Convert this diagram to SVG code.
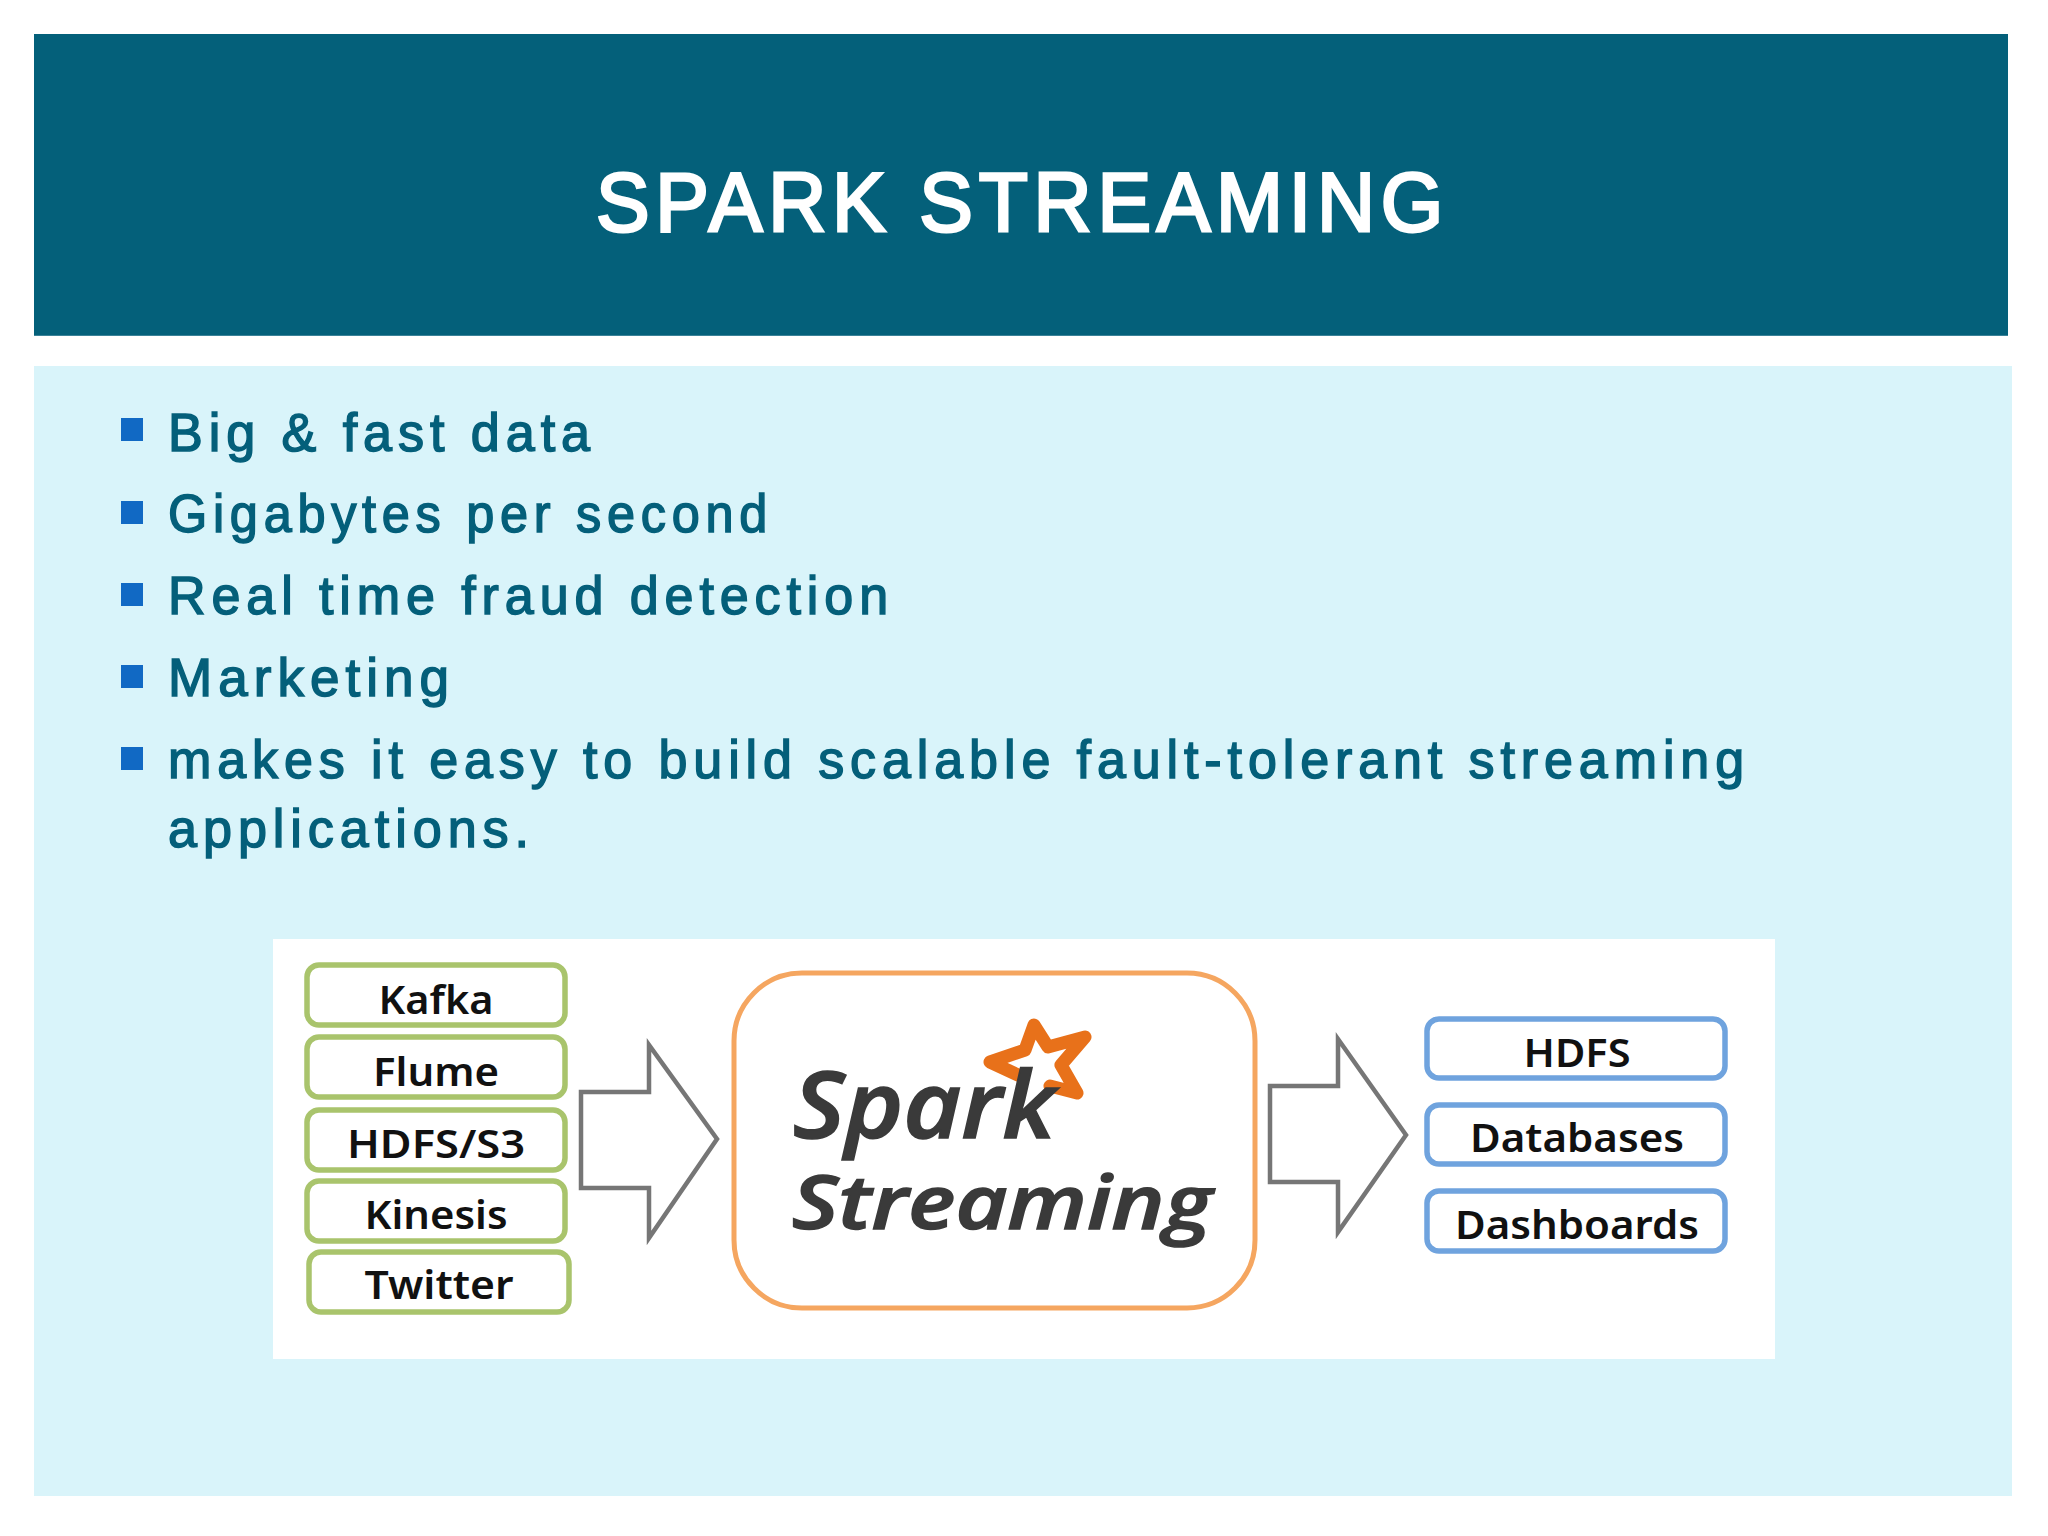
<svg xmlns="http://www.w3.org/2000/svg" width="2048" height="1536" viewBox="0 0 2048 1536">
<style>
.body{font-family:"Liberation Sans",Arial,sans-serif;font-size:53px;fill:#045f7a;stroke:#045f7a;stroke-width:1.5px;letter-spacing:6px}
.bul{fill:#1169c4}
.lab{font-family:"Noto Sans","Open Sans",sans-serif;font-weight:600;font-size:40px;fill:#111;text-anchor:middle}
.g{fill:#fff;stroke:#a9c46c;stroke-width:5.5}
.b{fill:#fff;stroke:#6fa3de;stroke-width:5.5}
.arr{fill:#fff;stroke:#767676;stroke-width:4.5}
.logo{font-family:"Open Sans","Liberation Sans",sans-serif;font-style:italic;font-weight:600;fill:#3a3a3a;stroke:#3a3a3a;stroke-width:1.5px}
</style>
<rect width="2048" height="1536" fill="#fff"/>
<rect id="header" x="34" y="34" width="1974" height="301" fill="#04607a"/>
<rect x="34" y="335" width="1974" height="1" fill="#3a8298"/>
<text id="title" x="596" y="231" textLength="853" lengthAdjust="spacingAndGlyphs" style="font-family:'Liberation Sans',Arial,sans-serif;font-size:84px;fill:#fff;stroke:#fff;stroke-width:3px;letter-spacing:6px">SPARK STREAMING</text>
<rect id="panel" x="34" y="366" width="1978" height="1130" fill="#d9f4fa"/>
<g id="bullets">
<rect class="bul" x="121" y="418" width="22" height="23"/>
<rect class="bul" x="121" y="501" width="22" height="23"/>
<rect class="bul" x="121" y="583" width="22" height="23"/>
<rect class="bul" x="121" y="665" width="22" height="23"/>
<rect class="bul" x="121" y="747" width="22" height="23"/>
<text class="body" x="168" y="451" textLength="428" lengthAdjust="spacingAndGlyphs">Big &amp; fast data</text>
<text class="body" x="168" y="532" textLength="605" lengthAdjust="spacingAndGlyphs">Gigabytes per second</text>
<text class="body" x="168" y="614" textLength="726" lengthAdjust="spacingAndGlyphs">Real time fraud detection</text>
<text class="body" x="168" y="696" textLength="287" lengthAdjust="spacingAndGlyphs">Marketing</text>
<text class="body" x="168" y="778" textLength="1582" lengthAdjust="spacingAndGlyphs">makes it easy to build scalable fault-tolerant streaming</text>
<text class="body" x="168" y="847" textLength="367" lengthAdjust="spacingAndGlyphs">applications.</text>
</g>
<rect id="diagram-bg" x="273" y="939" width="1502" height="420" fill="#fff"/>
<g id="connectors">
<path id="arrow-in" class="arr" d="M581 1092H649V1045L717 1139L649 1238V1188H581Z"/>
<path id="arrow-out" class="arr" d="M1270 1086H1338V1039L1406 1135L1338 1232V1182H1270Z"/>
</g>
<g id="kafka"><rect class="g" x="307" y="965" width="258" height="60" rx="12"/><text class="lab" x="436" y="1014" textLength="115" lengthAdjust="spacingAndGlyphs">Kafka</text></g>
<g id="flume"><rect class="g" x="307" y="1037" width="258" height="60" rx="12"/><text class="lab" x="436" y="1086" textLength="126" lengthAdjust="spacingAndGlyphs">Flume</text></g>
<g id="hdfs-s3"><rect class="g" x="307" y="1110" width="258" height="60" rx="12"/><text class="lab" x="436" y="1158" textLength="178" lengthAdjust="spacingAndGlyphs">HDFS/S3</text></g>
<g id="kinesis"><rect class="g" x="307" y="1181" width="258" height="60" rx="12"/><text class="lab" x="436" y="1229" textLength="143" lengthAdjust="spacingAndGlyphs">Kinesis</text></g>
<g id="twitter"><rect class="g" x="309" y="1252" width="260" height="60" rx="12"/><text class="lab" x="439" y="1299" textLength="149" lengthAdjust="spacingAndGlyphs">Twitter</text></g>
<g id="spark-streaming">
<rect x="734" y="973" width="521" height="335" rx="68" fill="#fff" stroke="#f5a660" stroke-width="5"/>
<path d="M990 1062L1025 1050L1034 1025L1048 1047L1085 1037L1061 1065L1077 1093L1050 1086M990 1062L1018 1075" fill="none" stroke="#e8711a" stroke-width="13" stroke-linejoin="round" stroke-linecap="round"/>
<text class="logo" x="793" y="1138" font-size="92" textLength="262" lengthAdjust="spacingAndGlyphs">Spark</text>
<text class="logo" x="792" y="1229" font-size="75" textLength="420" lengthAdjust="spacingAndGlyphs">Streaming</text>
</g>
<g id="hdfs"><rect class="b" x="1427" y="1019" width="298" height="59" rx="12"/><text class="lab" x="1577" y="1067" textLength="107" lengthAdjust="spacingAndGlyphs">HDFS</text></g>
<g id="databases"><rect class="b" x="1427" y="1105" width="298" height="59" rx="12"/><text class="lab" x="1577" y="1152" textLength="214" lengthAdjust="spacingAndGlyphs">Databases</text></g>
<g id="dashboards"><rect class="b" x="1427" y="1191" width="298" height="60" rx="12"/><text class="lab" x="1577" y="1239" textLength="244" lengthAdjust="spacingAndGlyphs">Dashboards</text></g>
</svg>
